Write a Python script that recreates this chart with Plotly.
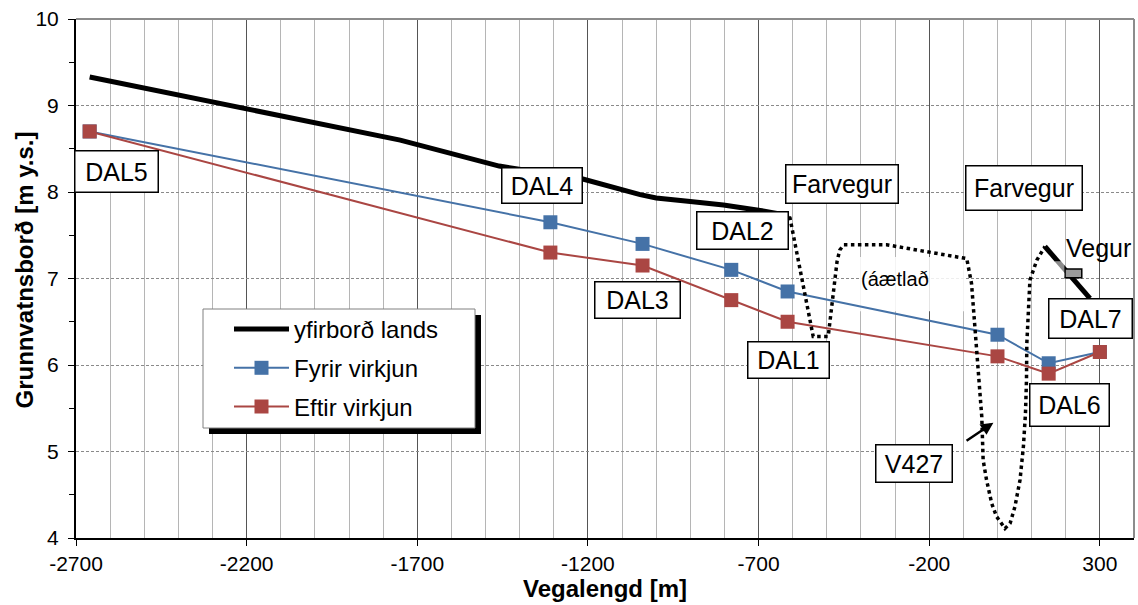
import plotly.graph_objects as go

FONT = "Liberation Sans, Arial, sans-serif"

# ---------------- data ----------------
well_dist = [-2660, -1310, -1040, -780, -615, 0, 150, 300]
gw_fyrir = [8.70, 7.65, 7.40, 7.10, 6.85, 6.35, 6.02, 6.15]
gw_eftir = [8.70, 7.30, 7.15, 6.75, 6.50, 6.10, 5.90, 6.15]

land_x = [-2660, -1750, -1460, -1215, -1047, -1000, -900, -803, -700, -630, None, 139, 271]
land_y = [9.33, 8.60, 8.30, 8.15, 7.97, 7.93, 7.89, 7.85, 7.79, 7.74, None, 7.37, 6.77]

est_x = [-630, -608, -540, -496, -470, -462, -450, -325, -90, -76, -61, -46, -42, -32, -17, -3,
         22, 37, 51, 66, 76, 82, 85, 86, 95, 115, 139]
est_y = [7.74, 7.70, 6.33, 6.33, 7.20, 7.33, 7.39, 7.39, 7.23, 6.94, 6.17, 5.40, 4.90, 4.67, 4.40, 4.25,
         4.11, 4.17, 4.36, 4.67, 5.06, 5.44, 5.83, 6.25, 6.98, 7.21, 7.37]

road_x = [198, 247]
road_y = [7.01, 7.11]

x_tick_vals = [-2700, -2200, -1700, -1200, -700, -200, 300]
x_tick_text = ["-2700", "-2200", "-1700", "-1200", "-700", "-200", "300"]
y_tick_vals = [4, 5, 6, 7, 8, 9, 10]
y_tick_text = ["4", "5", "6", "7", "8", "9", "10"]

label_text = ["DAL5", "DAL4", "DAL3", "DAL2", "DAL1", "Farvegur", "Farvegur", "DAL7", "DAL6", "V427"]
label_x = [-2580, -1335, -1056, -747, -611, -457, 78, 272, 210, -245]
label_y = [8.24, 8.07, 6.75, 7.55, 6.06, 8.09, 8.05, 6.54, 5.54, 4.86]
label_w = [82, 79, 84, 90, 80, 111, 115, 82, 78, 75]
label_h = [40, 34, 35, 36, 35, 37, 43, 38, 41, 36]

BLUE = "#4572A7"
RED = "#AA4643"

fig = go.Figure()

fig.add_trace(go.Scatter(
    x=land_x, y=land_y, mode="lines", name="yfirborð lands",
    line=dict(color="black", width=5), connectgaps=False, legendgroup="a"))
fig.add_trace(go.Scatter(
    x=well_dist, y=gw_fyrir, mode="lines+markers", name="Fyrir virkjun",
    line=dict(color=BLUE, width=2), marker=dict(symbol="square", size=14, color=BLUE),
    legendgroup="b"))
fig.add_trace(go.Scatter(
    x=well_dist, y=gw_eftir, mode="lines+markers", name="Eftir virkjun",
    line=dict(color=RED, width=2), marker=dict(symbol="square", size=14, color=RED),
    legendgroup="c"))
fig.add_trace(go.Scatter(
    x=est_x, y=est_y, mode="lines", showlegend=False,
    line=dict(color="black", width=3.5, dash="dot")))

L, T, R, B = 76, 19, 1134, 538
def px(xp):
    return (xp - L) / (R - L)
def py(yp):
    return (B - yp) / (B - T)

shapes = []
# faded box behind "(áætlað"
shapes.append(dict(type="rect", xref="x", yref="y", x0=-405, x1=-95, y0=6.62, y1=7.25,
                   fillcolor="rgba(255,255,255,0.85)", line=dict(width=0), layer="between"))
# road marker
shapes.append(dict(type="rect", xref="x", yref="y", x0=road_x[0], x1=road_x[1],
                   y0=road_y[0], y1=road_y[1], fillcolor="#999999",
                   line=dict(color="black", width=1.5), layer="above"))
# faded part of land line near road
shapes.append(dict(type="rect", xref="x", yref="y", x0=168, x1=196, y0=7.02, y1=7.20,
                   fillcolor="rgba(255,255,255,0.55)", line=dict(width=0), layer="above"))
# top & right frame (grey)
shapes.append(dict(type="line", xref="paper", yref="paper", x0=0, x1=1, y0=1, y1=1,
                   line=dict(color="#8c8c8c", width=2)))
shapes.append(dict(type="line", xref="paper", yref="paper", x0=1, x1=1, y0=0, y1=1,
                   line=dict(color="#8c8c8c", width=2)))
# legend shadow and box
shapes.append(dict(type="rect", xref="paper", yref="paper", x0=px(209), x1=px(481),
                   y0=py(434), y1=py(315), fillcolor="black", line=dict(width=0), layer="above"))
shapes.append(dict(type="rect", xref="paper", yref="paper", x0=px(203), x1=px(475),
                   y0=py(428), y1=py(309), fillcolor="white",
                   line=dict(color="#808080", width=1), layer="above"))

annotations = []
for t, x, y, w, h in zip(label_text, label_x, label_y, label_w, label_h):
    annotations.append(dict(x=x, y=y, xref="x", yref="y", text=t, showarrow=False,
                            font=dict(family=FONT, size=25, color="black"),
                            bgcolor="white", bordercolor="black", borderwidth=1.5,
                            borderpad=0, width=w, height=h, xanchor="center", yanchor="middle"))
annotations.append(dict(x=297, y=7.35, xref="x", yref="y", text="Vegur", showarrow=False,
                        font=dict(family=FONT, size=25, color="black"),
                        xanchor="center", yanchor="middle"))
annotations.append(dict(x=-300, y=7.0, xref="x", yref="y", text="(áætlað", showarrow=False,
                        font=dict(family=FONT, size=20, color="black"),
                        xanchor="center", yanchor="middle"))
annotations.append(dict(x=-12, y=5.333, ax=-95, ay=5.113, xref="x", yref="y",
                        axref="x", ayref="y", text="", showarrow=True,
                        arrowhead=2, arrowsize=1, arrowwidth=2.5, arrowcolor="black"))
# y-axis title
annotations.append(dict(x=0, y=py(270.5), xref="paper", yref="paper", xshift=-52,
                        text="<b>Grunnvatnsborð [m y.s.]</b>", textangle=-90, showarrow=False,
                        font=dict(family=FONT, size=24, color="black"),
                        xanchor="center", yanchor="middle"))

fig.update_layout(
    width=1138, height=605,
    margin=dict(l=L, r=1138 - R, t=T, b=605 - B),
    paper_bgcolor="white", plot_bgcolor="white",
    font=dict(family=FONT, color="black"),
    showlegend=True,
    legend=dict(x=px(229), y=py(307), xanchor="left", yanchor="top",
                bgcolor="rgba(0,0,0,0)", borderwidth=0,
                font=dict(family=FONT, size=24, color="black"),
                itemwidth=55, tracegroupgap=4.5, traceorder="grouped"),
    shapes=shapes,
    annotations=annotations,
)

fig.update_xaxes(
    range=[-2700, 400], tickvals=x_tick_vals, ticktext=x_tick_text,
    tickfont=dict(family=FONT, size=21, color="black"),
    ticks="outside", ticklen=6, tickcolor="black",
    showline=True, linecolor="black", linewidth=2,
    showgrid=True, gridcolor="#555555", gridwidth=1,
    minor=dict(dtick=100, tick0=-2700, showgrid=True, gridcolor="#b5b5b5", gridwidth=1, ticks=""),
    zeroline=False,
    title=dict(text="<b>Vegalengd [m]</b>", font=dict(family=FONT, size=24, color="black"), standoff=6),
)
fig.update_yaxes(
    range=[4, 10], tickvals=y_tick_vals, ticktext=y_tick_text,
    tickfont=dict(family=FONT, size=21, color="black"),
    ticks="outside", ticklen=6, tickcolor="black", ticklabelstandoff=5,
    showline=True, linecolor="black", linewidth=2,
    showgrid=True, gridcolor="#8a8a8a", gridwidth=1, griddash="3px,2px",
    minor=dict(dtick=0.5, tick0=4, ticks="outside", ticklen=5, tickcolor="black", showgrid=False),
    zeroline=False,
)

fig.write_html("out.html")
